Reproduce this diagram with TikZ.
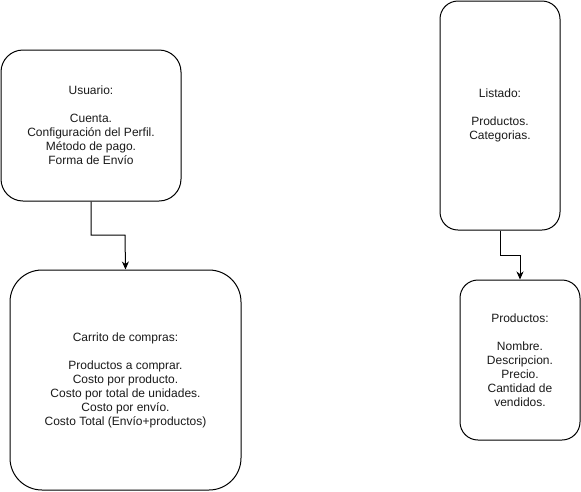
\documentclass[tikz,border=0pt]{standalone}
\usepackage{fontspec}
\setmainfont{Liberation Sans}
\usetikzlibrary{arrows.meta,positioning}
\definecolor{linegray}{HTML}{000000}
\definecolor{textgray}{HTML}{1A1A1A}
\tikzset{
  caja/.style={draw=linegray,line width=1pt,fill=white,align=center,
    font=\fontsize{12}{14}\selectfont,text=textgray,inner sep=0pt},
  flecha/.style={draw=linegray,line width=1pt,-{Stealth[length=8pt,width=7pt,inset=2.5pt]}}
}

\begin{document}
\begin{tikzpicture}[x=1pt,y=-1pt]
  \useasboundingbox (0,0) rectangle (581,491);
  \node[caja,minimum width=180pt,minimum height=151pt,rounded corners=22pt] (usuario) at (91,125.5)
    {Usuario:\\[14pt]Cuenta.\\Configuración del Perfil.\\Método de pago.\\Forma de Envío};
  \node[caja,minimum width=120pt,minimum height=229pt,rounded corners=18pt] (listado) at (500,115.5)
    {Listado:\\[14pt]Productos.\\Categorias.};
  \node[caja,minimum width=231pt,minimum height=220pt,rounded corners=32pt] (carrito) at (125.5,380)
    {Carrito de compras:\\[14pt]Productos a comprar.\\Costo por producto.\\Costo por total de unidades.\\Costo por envío.\\Costo Total (Envío+productos)};
  \node[caja,minimum width=120pt,minimum height=160pt,rounded corners=18pt] (productos) at (520,360)
    {Productos:\\[14pt]Nombre.\\Descripcion.\\Precio.\\Cantidad de\\vendidos.};
  % conectores
  \draw[flecha] (usuario.south) |- (125,235) -- (carrito.north);
  \draw[flecha] (listado.south) |- (520,255) -- (productos.north);
\end{tikzpicture}
\end{document}
